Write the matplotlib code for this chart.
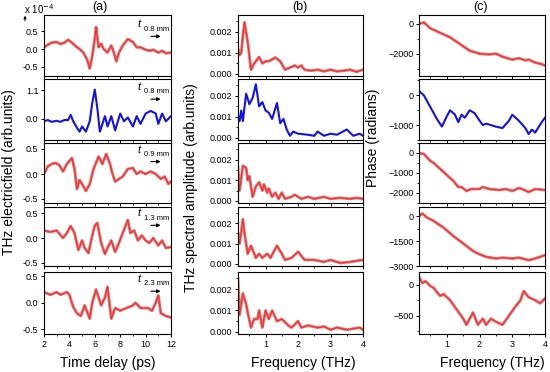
import matplotlib
matplotlib.use("Agg")
import matplotlib.pyplot as plt
from matplotlib.ticker import MultipleLocator, FormatStrFormatter

plt.rcParams['font.family'] = ['Liberation Sans', 'DejaVu Sans']

# ---- (a) time domain, units of 1e-4 ----
t1 = [2.0, 2.3, 2.6, 3.0, 3.3, 3.6, 3.9, 4.2, 4.5, 4.8, 5.1, 5.4, 5.6, 5.8, 6.0, 6.1, 6.3, 6.5, 6.7, 7.0, 7.3, 7.5, 7.7, 7.9, 8.2, 8.6, 9.0, 9.3, 9.6, 10.0, 10.3, 10.6, 11.0, 11.3, 11.6, 12.0]
e1 = [0.05, 0.12, 0.18, 0.2, 0.14, 0.18, 0.26, 0.18, 0.08, 0.0, -0.1, -0.3, -0.55, -0.2, 0.3, 0.62, 0.05, 0.15, 0.0, -0.1, 0.1, -0.1, -0.35, -0.1, 0.1, 0.28, 0.2, 0.05, 0.05, -0.02, -0.05, -0.02, -0.1, -0.05, -0.12, -0.1]

t2 = [2.0, 2.3, 2.6, 3.0, 3.3, 3.6, 3.9, 4.1, 4.3, 4.6, 4.8, 5.0, 5.3, 5.6, 5.8, 6.0, 6.2, 6.4, 6.6, 6.8, 7.0, 7.3, 7.6, 8.0, 8.3, 8.6, 9.0, 9.3, 9.6, 10.0, 10.4, 10.8, 11.0, 11.3, 11.6, 12.0]
e2 = [-0.1, -0.05, -0.12, -0.08, -0.12, -0.05, -0.05, 0.15, -0.1, -0.35, -0.5, -0.3, -0.5, -0.1, 0.6, 1.12, 0.4, -0.5, -0.2, 0.1, -0.3, 0.1, -0.45, 0.2, -0.1, 0.05, -0.3, 0.1, -0.2, 0.2, 0.3, 0.2, -0.2, 0.2, -0.1, 0.1]

t3 = [2.0, 2.3, 2.6, 2.9, 3.2, 3.5, 3.8, 4.2, 4.4, 4.6, 4.8, 5.0, 5.3, 5.6, 5.9, 6.3, 6.6, 6.9, 7.2, 7.4, 7.6, 7.9, 8.2, 8.6, 9.0, 9.3, 9.6, 10.0, 10.4, 10.8, 11.2, 11.5, 11.8, 12.0]
e3 = [0.0, 0.15, 0.2, 0.22, 0.18, 0.05, 0.2, 0.32, 0.1, -0.3, -0.12, -0.2, -0.34, -0.2, 0.1, 0.35, 0.2, 0.4, 0.2, 0.0, -0.15, -0.1, -0.05, 0.1, 0.12, 0.0, 0.05, 0.0, 0.05, 0.0, -0.1, -0.05, -0.2, -0.15]

t4 = [2.0, 2.5, 3.0, 3.5, 3.8, 4.1, 4.4, 4.7, 5.0, 5.2, 5.5, 5.8, 6.0, 6.2, 6.5, 6.8, 7.0, 7.3, 7.6, 7.9, 8.2, 8.6, 8.8, 9.1, 9.4, 9.7, 10.0, 10.3, 10.6, 11.0, 11.3, 11.6, 12.0]
e4 = [0.15, 0.12, 0.15, 0.0, 0.1, 0.24, 0.1, -0.24, -0.05, -0.2, -0.3, 0.05, 0.25, 0.3, -0.1, -0.32, -0.2, -0.05, -0.28, -0.1, 0.1, 0.36, 0.1, 0.15, -0.05, 0.05, -0.05, -0.1, 0.0, -0.15, -0.05, -0.2, -0.18]

t5 = [2.0, 2.5, 3.0, 3.3, 3.8, 4.0, 4.3, 4.6, 4.9, 5.2, 5.6, 5.8, 6.1, 6.5, 6.8, 7.0, 7.3, 7.6, 8.0, 8.5, 9.0, 9.2, 9.6, 10.2, 10.5, 10.8, 11.0, 11.2, 11.6, 12.0]
e5 = [0.2, 0.15, 0.2, 0.15, 0.2, 0.15, -0.08, -0.2, -0.25, -0.05, -0.3, 0.0, 0.25, -0.05, 0.1, 0.3, -0.3, -0.1, -0.15, -0.1, -0.05, 0.0, -0.1, -0.1, -0.15, 0.0, 0.14, -0.2, -0.25, -0.28]

# ---- (b) spectral amplitude ----
f1 = [0.15, 0.2, 0.25, 0.3, 0.35, 0.45, 0.55, 0.65, 0.8, 0.9, 1.0, 1.1, 1.3, 1.45, 1.6, 1.75, 1.9, 2.0, 2.1, 2.2, 2.4, 2.6, 2.8, 3.0, 3.2, 3.4, 3.6, 3.8, 4.0]
s1 = [0.0012, 0.0009, 0.001, 0.0018, 0.00245, 0.0015, 0.0002, 0.0005, 0.0008, 0.0005, 0.0006, 0.0006, 0.00078, 0.0006, 0.0002, 0.0003, 0.0004, 0.0003, 0.0004, 0.0002, 0.00015, 0.0002, 0.00012, 0.0002, 0.00012, 0.00015, 0.0002, 0.0001, 0.0002]

f2 = [0.15, 0.2, 0.25, 0.3, 0.4, 0.5, 0.6, 0.7, 0.8, 0.9, 1.0, 1.1, 1.2, 1.35, 1.45, 1.55, 1.65, 1.75, 1.85, 2.0, 2.3, 2.5, 2.6, 2.8, 3.0, 3.2, 3.5, 3.7, 3.9, 4.0]
s2 = [0.0011, 0.0008, 0.0013, 0.0008, 0.0021, 0.0016, 0.0019, 0.00255, 0.0015, 0.0017, 0.0013, 0.0012, 0.0009, 0.00166, 0.0007, 0.0009, 0.0004, 0.0001, 0.0003, 0.0002, 0.00015, 0.0001, 0.0003, 0.0001, 0.0002, 0.00015, 0.0004, 0.0001, 0.0002, 0.0001]

f3 = [0.15, 0.2, 0.3, 0.4, 0.45, 0.5, 0.6, 0.7, 0.8, 0.9, 0.95, 1.05, 1.1, 1.2, 1.3, 1.4, 1.5, 1.6, 1.8, 1.9, 2.1, 2.3, 2.5, 2.8, 3.0, 3.3, 3.6, 3.8, 4.0]
s3 = [0.0016, 0.0005, 0.0017, 0.0016, 0.001, 0.0012, 0.0002, 0.0007, 0.0009, 0.0005, 0.0008, 0.0004, 0.0006, 0.0002, 0.0004, 0.0001, 0.0004, 0.0001, 0.0002, 0.0003, 0.0001, 0.0002, 0.0001, 0.0002, 0.0001, 0.00015, 0.0001, 0.00015, 0.0001]

f4 = [0.15, 0.2, 0.3, 0.35, 0.45, 0.55, 0.7, 0.8, 0.9, 1.05, 1.15, 1.35, 1.5, 1.6, 1.8, 2.0, 2.2, 2.5, 2.8, 3.0, 3.3, 3.6, 4.0]
s4 = [0.0015, 0.001, 0.0022, 0.0015, 0.0005, 0.0009, 0.0003, 0.0005, 0.0003, 0.0005, 0.0003, 0.0009, 0.0005, 0.0002, 0.0003, 0.0006, 0.0002, 0.0002, 0.0001, 0.0002, 0.00005, 0.0001, 0.0002]

f5 = [0.15, 0.2, 0.3, 0.4, 0.45, 0.55, 0.65, 0.75, 0.8, 0.9, 1.0, 1.1, 1.2, 1.35, 1.5, 1.7, 1.8, 2.0, 2.1, 2.3, 2.6, 2.8, 3.0, 3.2, 3.5, 3.7, 3.9, 4.0]
s5 = [0.0025, 0.0008, 0.0018, 0.0013, 0.0009, 0.0002, 0.0006, 0.0006, 0.001, 0.0002, 0.001, 0.0006, 0.001, 0.0005, 0.0006, 0.0003, 0.0002, 0.0005, 0.0002, 0.0003, 0.0002, 0.00025, 0.0001, 0.0002, 0.0001, 0.00015, 0.0002, 0.0001]

# ---- (c) phase ----
g1 = [0.15, 0.3, 0.5, 0.7, 0.9, 1.1, 1.3, 1.5, 1.7, 2.0, 2.3, 2.5, 2.7, 3.0, 3.2, 3.4, 3.5, 3.7, 3.9, 4.0]
p1 = [0, 100, -300, -500, -700, -900, -1200, -1500, -1800, -2000, -2050, -2000, -2200, -2400, -2300, -2450, -2400, -2600, -2700, -2800]

g2 = [0.15, 0.3, 0.5, 0.7, 0.85, 1.0, 1.1, 1.25, 1.35, 1.45, 1.55, 1.7, 1.85, 2.0, 2.1, 2.2, 2.5, 2.7, 2.9, 3.0, 3.2, 3.4, 3.5, 3.6, 3.7, 3.9, 4.0]
p2 = [150, 0, -400, -800, -1050, -700, -500, -650, -900, -650, -750, -500, -600, -850, -1000, -950, -1050, -1100, -850, -650, -850, -1100, -1300, -1150, -1250, -900, -750]

g3 = [0.15, 0.3, 0.5, 0.6, 0.8, 1.0, 1.2, 1.35, 1.45, 1.6, 1.75, 2.0, 2.1, 2.3, 2.6, 2.8, 3.0, 3.2, 3.3, 3.5, 3.7, 4.0]
p3 = [0, -50, -400, -500, -800, -1100, -1400, -1700, -1700, -1900, -1800, -1800, -1700, -1800, -1850, -1800, -1900, -1750, -1800, -1950, -1800, -1850]

g4 = [0.15, 0.25, 0.4, 0.6, 0.9, 1.2, 1.4, 1.6, 1.8, 2.0, 2.2, 2.5, 2.7, 3.0, 3.2, 3.5, 3.7, 4.0]
p4 = [0, 150, -100, -300, -700, -1200, -1500, -1800, -2100, -2300, -2450, -2550, -2500, -2550, -2500, -2650, -2550, -2350]

g5 = [0.15, 0.25, 0.35, 0.5, 0.6, 0.7, 0.8, 0.9, 1.1, 1.3, 1.5, 1.6, 1.7, 1.8, 1.95, 2.1, 2.2, 2.35, 2.5, 2.7, 2.9, 3.1, 3.25, 3.35, 3.5, 3.7, 3.85, 4.0]
p5 = [130, 30, 60, -20, -50, -120, -180, -150, -250, -400, -550, -650, -550, -450, -650, -550, -650, -550, -600, -650, -500, -350, -250, -100, -200, -250, -300, -220]

labels = ['0.8 mm', '0.8 mm', '0.9 mm', '1.3 mm', '2.3 mm']
red = '#f26262'
blue = '#1212e6'

time_data = [(t1, e1), (t2, e2), (t3, e3), (t4, e4), (t5, e5)]
spec_data = [(f1, s1), (f2, s2), (f3, s3), (f4, s4), (f5, s5)]
phase_data = [(g1, p1), (g2, p2), (g3, p3), (g4, p4), (g5, p5)]

a_ylim = [(-0.76, 0.96), (-0.82, 1.53), (-0.58, 0.62), (-0.56, 0.62), (-0.59, 0.58)]
a_ticks = [[-0.5, 0.0, 0.5], [0.0, 1.1], [-0.5, 0.0, 0.5], [-0.5, 0.0, 0.5], [-0.5, 0.0, 0.5]]
c_ylim = [(-3500, 600), (-1500, 550), (-2500, 500), (-3000, 540), (-800, 210)]
c_ticks = [[-2000, 0], [-1000, 0], [-2000, -1000, 0], [-3000, -1500, 0], [-500, 0]]
c_minor = [1000, 500, 500, 750, 250]

W, H = 550, 372
fig = plt.figure(figsize=(5.5, 3.72), dpi=100)
tops = [15, 79, 143, 207, 272]
bots = [76, 140, 203, 266, 334]
cols = [(44, 171), (238, 363), (419, 545)]


def make_ax(c, r):
    x0, x1 = cols[c]
    return fig.add_axes([x0 / W, 1 - bots[r] / H, (x1 - x0) / W, (bots[r] - tops[r]) / H])


def style(ax, last):
    ax.tick_params(which='both', direction='out', labelsize=6.5, pad=1.5,
                   top=False, right=False)
    ax.tick_params(which='major', length=2.5, width=0.7)
    ax.tick_params(which='minor', length=1.5, width=0.6)
    for s in ax.spines.values():
        s.set_linewidth(0.8)
    if not last:
        ax.tick_params(axis='x', labelbottom=False)


first_ax = None
for r in range(5):
    col = blue if r == 1 else red
    lw = 1.5 if r == 1 else 2.0

    # (a)
    ax = make_ax(0, r)
    if first_ax is None:
        first_ax = ax
    t, e = time_data[r]
    ax.plot(t, e, color=col, lw=lw)
    if r != 1:
        ax.plot(t, e, color='#e02828', lw=0.5)
    ax.set_xlim(2, 12)
    ax.set_ylim(*a_ylim[r])
    ax.set_yticks(a_ticks[r])
    ax.yaxis.set_major_formatter(FormatStrFormatter('%.1f'))
    ax.xaxis.set_major_locator(MultipleLocator(2))
    ax.xaxis.set_minor_locator(MultipleLocator(1))
    style(ax, r == 4)
    ty = [0.85, 0.87, 0.89, 0.89, 0.89][r]
    ax.text(0.74, ty, 't', transform=ax.transAxes, fontsize=8, style='italic',
            ha='left', va='center')
    ax.text(0.79, ty - 0.08, labels[r], transform=ax.transAxes, fontsize=5.5,
            ha='left', va='center')
    ay = ty - 0.2
    ax.annotate('', xy=(0.94, ay), xytext=(0.82, ay), xycoords='axes fraction',
                arrowprops=dict(arrowstyle='-|>', color='black', lw=0.8,
                                mutation_scale=5))
    if r == 4:
        ax.set_xlabel('Time delay (ps)', fontsize=10, labelpad=5)

    # (b)
    ax = make_ax(1, r)
    f, s = spec_data[r]
    ax.plot(f, s, color=col, lw=lw)
    if r != 1:
        ax.plot(f, s, color='#e02828', lw=0.5)
    ax.set_xlim(0.15, 4)
    ax.set_ylim(-0.0001, 0.0028)
    ax.set_yticks([0.0, 0.001, 0.002])
    ax.yaxis.set_minor_locator(MultipleLocator(0.0005))
    ax.yaxis.set_major_formatter(FormatStrFormatter('%.3f'))
    ax.xaxis.set_major_locator(MultipleLocator(1))
    ax.xaxis.set_minor_locator(MultipleLocator(0.5))
    style(ax, r == 4)
    if r == 4:
        ax.set_xlabel('Frequency (THz)', fontsize=10, labelpad=5, x=0.52)

    # (c)
    ax = make_ax(2, r)
    g, p = phase_data[r]
    ax.plot(g, p, color=col, lw=lw)
    if r != 1:
        ax.plot(g, p, color='#e02828', lw=0.5)
    ax.set_xlim(0.15, 4)
    ax.set_ylim(*c_ylim[r])
    ax.set_yticks(c_ticks[r])
    ax.yaxis.set_minor_locator(MultipleLocator(c_minor[r]))
    ax.xaxis.set_major_locator(MultipleLocator(1))
    ax.xaxis.set_minor_locator(MultipleLocator(0.5))
    style(ax, r == 4)
    if r == 4:
        ax.set_xlabel('Frequency (THz)', fontsize=10, labelpad=5, x=0.58)

fig.text(100 / W, 1 - 7 / H, '(a)', fontsize=9, ha='center', va='center')
fig.text(300 / W, 1 - 7 / H, '(b)', fontsize=9, ha='center', va='center')
fig.text(481 / W, 1 - 7 / H, '(c)', fontsize=9, ha='center', va='center')
fig.text(24 / W, 1 - 9 / H, 'x 10$^{-4}$', fontsize=7, ha='left', va='center')
first_ax.annotate('', xy=(25 / W, 1 - 13 / H), xytext=(25 / W, 1 - 24 / H),
                  xycoords='figure fraction', annotation_clip=False,
                  arrowprops=dict(arrowstyle='-|>', color='black', lw=0.6,
                                  mutation_scale=4))

fig.text(9 / W, 1 - 172 / H, 'THz electricfield (arb.units)', fontsize=10,
         rotation=90, ha='center', va='center')
fig.text(191 / W, 1 - 188 / H, 'THz spectral amplitude (arb.units)', fontsize=10,
         rotation=90, ha='center', va='center')
fig.text(373 / W, 1 - 138 / H, 'Phase (radians)', fontsize=10,
         rotation=90, ha='center', va='center')

fig.savefig('out.png', dpi=100)
